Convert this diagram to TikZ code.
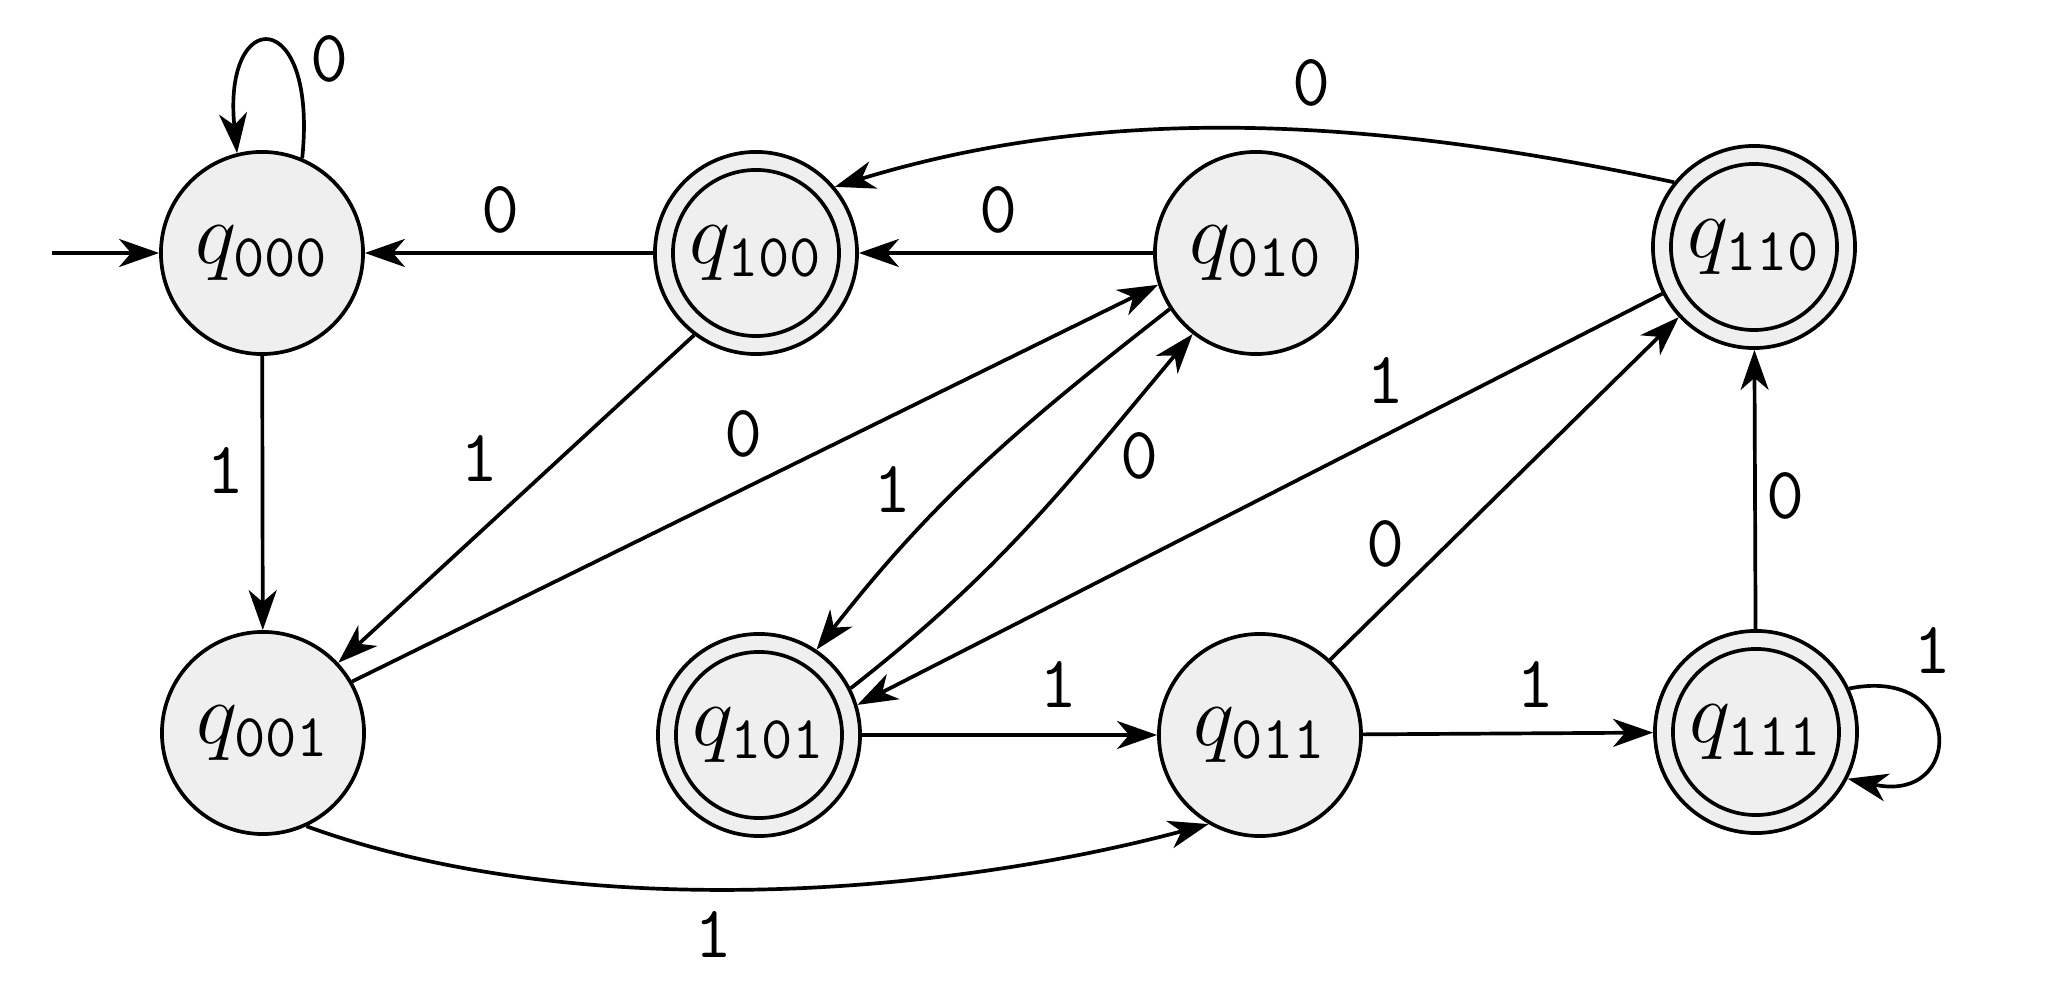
\documentclass[tikz,border=0pt]{standalone}
\usetikzlibrary{arrows.meta}
\definecolor{nodefill}{RGB}{239,239,239}
\tikzset{
  state/.style={circle, draw, line width=1.05pt, fill=nodefill, minimum size=2.02cm,
    inner sep=0pt, font=\fontsize{26}{30}\selectfont},
  acc/.style={state, path picture={\draw[line width=1.05pt] (path picture bounding box.center) circle (0.83cm);}},
  edge/.style={-{Stealth[length=0.4cm,width=0.28cm,inset=0.12cm]}, line width=1.05pt},
  lab/.style={font=\fontsize{21}{25}\selectfont\ttfamily, inner sep=0pt}
}
\begin{document}
\begin{tikzpicture}[x=0.01cm,y=0.01cm]
\useasboundingbox (0,0) rectangle (2062,1000);
\node[state] (q000) at (262,747) {$q_{\mathtt{000}}$};
\node[acc]   (q100) at (756,747) {$q_{\mathtt{100}}$};
\node[state] (q010) at (1256,747) {$q_{\mathtt{010}}$};
\node[acc]   (q110) at (1754,753) {$q_{\mathtt{110}}$};
\node[state] (q001) at (263,267) {$q_{\mathtt{001}}$};
\node[acc]   (q101) at (759,265) {$q_{\mathtt{101}}$};
\node[state] (q011) at (1260,265) {$q_{\mathtt{011}}$};
\node[acc]   (q111) at (1756,268) {$q_{\mathtt{111}}$};
\coordinate (init) at (52,747);

\draw[edge] (init) -- (q000);
\draw[edge] (q000.67) .. controls (318,995) and (222,995) .. (q000.104)
  node[lab] at (330,941) {0};
\draw[edge] (q100) -- (q000) node[lab] at (501,790) {0};
\draw[edge] (q010) -- (q100) node[lab] at (999,790) {0};
\draw[edge] (q110.141) to[out=168, in=17, looseness=0.9] (q100.40) node[lab] at (1312,917) {0};
\draw[edge] (q000) -- (q001) node[lab] at (226,529) {1};
\draw[edge] (q100.233) -- (q001.43) node[lab] at (480,541) {1};
\draw[edge] (q001.30) -- (q010.198) node[lab] at (744,566) {0};
\draw[edge] (q010.213) to[out=218, in=52] (q101.56) node[lab] at (893,510) {1};
\draw[edge] (q101.27) to[out=38, in=230] (q010.232) node[lab] at (1140,544) {0};
\draw[edge] (q110.207) -- (q101.17) node[lab] at (1386,619) {1};
\draw[edge] (q101) -- (q011) node[lab] at (1059,315) {1};
\draw[edge] (q011.47) -- (q110.223) node[lab] at (1386,456) {0};
\draw[edge] (q011) -- (q111) node[lab] at (1536,315) {1};
\draw[edge] (q111) -- (q110) node[lab] at (1786,504) {0};
\draw[edge] (q111.25) .. controls (1965,335) and (1965,195) .. (q111.-27)
  node[lab] at (1933,349) {1};
\draw[edge] (q001.-65) to[out=-20, in=195, looseness=0.8] (q011.240)
  node[lab] at (714,65) {1};
\end{tikzpicture}
\end{document}
